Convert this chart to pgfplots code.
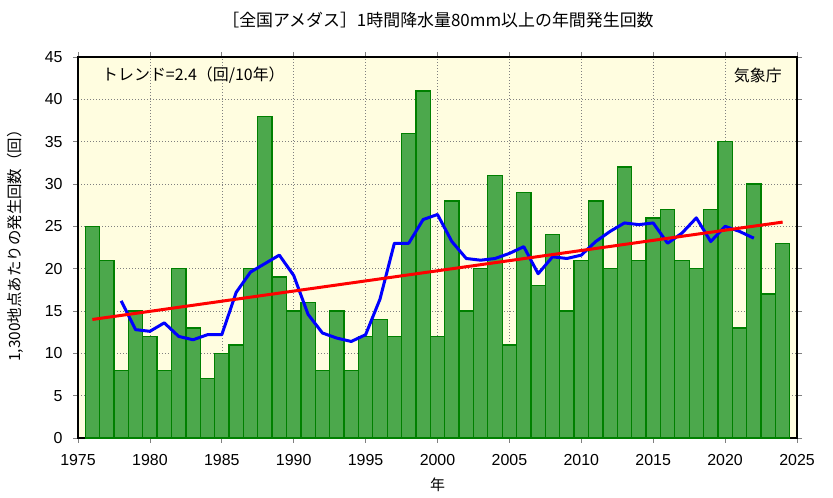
\documentclass[border=0pt]{standalone}
\usepackage{pgfplots}
\pgfplotsset{compat=1.18}
\usepackage{fontspec}
\setmainfont{Noto Sans CJK JP}
\newfontfamily\arial{Liberation Sans}
\definecolor{bgy}{RGB}{255,253,224}
\definecolor{barfill}{RGB}{76,168,76}
\definecolor{baredge}{RGB}{0,128,0}
\begin{document}
\begin{tikzpicture}
\path[use as bounding box] (-78bp,-60bp) rectangle (755bp,438bp);
\begin{axis}[
  at={(0,0)}, anchor=south west,
  scale only axis, width=719bp, height=381bp,
  xmin=1975, xmax=2025, ymin=0, ymax=45,
  xtick={1975,1980,...,2025}, ytick={0,5,...,45},
  /pgf/number format/assume math mode=true,
  xticklabel style={/pgf/number format/1000 sep={}, yshift=-8bp},
  yticklabel style={xshift=-7bp},
  ticklabel style={font=\arial\fontsize{16}{16}\selectfont},
  tick align=outside, major tick length=5bp,
  tick style={gray, line width=0.8bp},
  axis line style={black, line width=1.5bp},
  grid=major,
  major grid style={gray, line width=0.6bp, dash pattern=on 1bp off 2bp},
  axis background/.style={fill=bgy},
  clip=false,
]
\addplot[ybar, bar width=1, bar shift=0pt, fill=barfill, draw=baredge, line width=1.3bp] coordinates {
(1976,25) (1977,21) (1978,8) (1979,15) (1980,12) (1981,8) (1982,20) (1983,13) (1984,7) (1985,10)
(1986,11) (1987,20) (1988,38) (1989,19) (1990,15) (1991,16) (1992,8) (1993,15) (1994,8) (1995,12)
(1996,14) (1997,12) (1998,36) (1999,41) (2000,12) (2001,28) (2002,15) (2003,20) (2004,31) (2005,11)
(2006,29) (2007,18) (2008,24) (2009,15) (2010,21) (2011,28) (2012,20) (2013,32) (2014,21) (2015,26)
(2016,27) (2017,21) (2018,20) (2019,27) (2020,35) (2021,13) (2022,30) (2023,17) (2024,23)
};
\addplot[blue, line width=3bp, line join=round, no marks] coordinates {
(1978,16.2) (1979,12.8) (1980,12.6) (1981,13.6) (1982,12.0) (1983,11.6) (1984,12.2) (1985,12.2)
(1986,17.2) (1987,19.6) (1988,20.6) (1989,21.6) (1990,19.2) (1991,14.6) (1992,12.4) (1993,11.8)
(1994,11.4) (1995,12.2) (1996,16.4) (1997,23.0) (1998,23.0) (1999,25.8) (2000,26.4) (2001,23.2)
(2002,21.2) (2003,21.0) (2004,21.2) (2005,21.8) (2006,22.6) (2007,19.4) (2008,21.4) (2009,21.2)
(2010,21.6) (2011,23.2) (2012,24.4) (2013,25.4) (2014,25.2) (2015,25.4) (2016,23.0) (2017,24.2)
(2018,26.0) (2019,23.2) (2020,25.0) (2021,24.4) (2022,23.6)
};
\addplot[red, line width=3bp, no marks] coordinates {(1976,14.0) (2024,25.5)};
\end{axis}
\node[anchor=west, inner sep=0pt, font=\fontsize{16}{16}\selectfont] at (24bp,363bp) {トレンド=2.4（回/10年）};
\node[anchor=east, inner sep=0pt, font=\fontsize{16}{16}\selectfont] at (704bp,363bp) {気象庁};
\node[inner sep=0pt, font=\fontsize{17}{17}\selectfont] at (360bp,418bp) {［全国アメダス］1時間降水量80mm以上の年間発生回数};
\node[inner sep=0pt, font=\fontsize{15}{16}\selectfont] at (359.5bp,-47bp) {年};
\node[inner sep=0pt, rotate=90, font=\fontsize{15.5}{16}\selectfont] at (-63bp,196bp) {1,300地点あたりの発生回数（回）};
\end{tikzpicture}
\end{document}
